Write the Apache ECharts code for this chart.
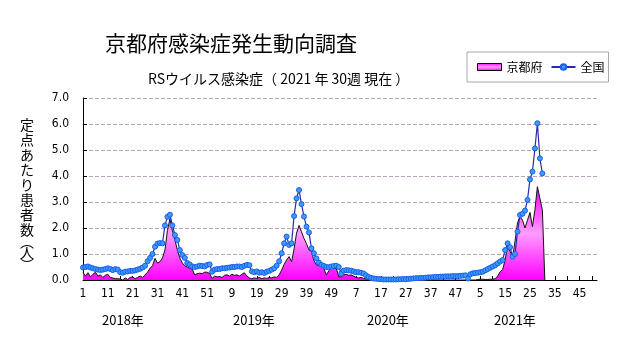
<!DOCTYPE html>
<html><head><meta charset="utf-8">
<script src="https://cdn.jsdelivr.net/npm/echarts@6/dist/echarts.min.js"></script>
<style>html,body{margin:0;padding:0;background:#fff}#c{width:631px;height:347px}</style>
</head><body><div id="c"></div>
<script>
// ---- categories ----
const years = ['2018', '2019', '2020', '2021'];
const weeksPerYear = 52;
const yearLabels = ['2018年', '2019年', '2020年', '2021年'];

// ---- 全国 (national) weekly values ----
const national2018 = [
  0.48,0.50,0.52,0.48,0.45,0.42,0.40,0.38,0.40,0.42,
  0.45,0.42,0.38,0.42,0.40,0.30,0.28,0.32,0.33,0.35,
  0.35,0.37,0.40,0.43,0.48,0.55,0.72,0.85,1.00,1.28,
  1.40,1.42,1.41,2.10,2.43,2.51,2.10,1.73,1.54,1.15,
  0.96,0.85,0.65,0.60,0.52,0.50,0.52,0.55,0.54,0.52,
  0.58,0.60];
const national2019 = [
  0.32,0.40,0.42,0.42,0.45,0.45,0.47,0.48,0.50,0.50,
  0.52,0.52,0.50,0.55,0.58,0.57,0.33,0.30,0.33,0.28,
  0.30,0.27,0.32,0.35,0.40,0.45,0.55,0.72,1.03,1.41,
  1.67,1.35,1.41,2.46,3.14,3.46,2.92,2.44,2.05,1.83,
  1.22,1.03,0.83,0.67,0.58,0.54,0.50,0.49,0.52,0.54,
  0.55,0.50];
const national2020 = [
  0.25,0.36,0.38,0.37,0.36,0.33,0.30,0.30,0.28,0.25,
  0.18,0.12,0.08,0.06,0.05,0.04,0.03,0.02,0.02,0.02,
  0.02,0.02,0.02,0.03,0.03,0.04,0.03,0.04,0.05,0.06,
  0.07,0.07,0.08,0.08,0.09,0.10,0.10,0.11,0.12,0.12,
  0.13,0.13,0.14,0.14,0.14,0.15,0.15,0.15,0.16,0.17,
  0.18,0.06];
const national2021 = [
  0.22,0.26,0.27,0.28,0.30,0.32,0.37,0.42,0.47,0.52,
  0.57,0.64,0.71,0.77,1.15,1.41,1.26,0.90,1.00,1.86,
  2.50,2.55,2.67,3.08,3.87,4.17,5.06,6.03,4.68,4.10];

// ---- 京都府 (Kyoto) weekly values ----
const kyoto2018 = [
  0.30,0.15,0.28,0.12,0.22,0.30,0.15,0.20,0.10,0.18,
  0.22,0.10,0.08,0.05,0.05,0.04,0.00,0.08,0.02,0.10,
  0.12,0.05,0.10,0.15,0.10,0.20,0.30,0.45,0.55,0.83,
  0.65,0.70,0.85,1.15,1.90,2.35,1.90,1.55,1.15,0.85,
  0.65,0.55,0.50,0.45,0.42,0.19,0.25,0.26,0.25,0.30,
  0.30,0.25];
const kyoto2019 = [
  0.06,0.15,0.12,0.13,0.10,0.18,0.20,0.15,0.22,0.18,
  0.20,0.15,0.22,0.28,0.15,0.08,0.05,0.08,0.06,0.10,
  0.05,0.08,0.06,0.10,0.08,0.12,0.10,0.20,0.38,0.60,
  0.77,0.90,0.70,1.20,1.80,2.10,1.85,1.60,1.40,1.15,
  1.10,0.75,0.58,0.55,0.55,0.45,0.19,0.35,0.50,0.45,
  0.45,0.13];
const kyoto2020 = [
  0.12,0.20,0.22,0.18,0.20,0.15,0.10,0.08,0.10,0.06,
  0.04,0.02,0.00,0.00,0.00,0.00,0.00,0.00,0.00,0.00,
  0.00,0.00,0.00,0.00,0.00,0.02,0.00,0.00,0.00,0.00,
  0.00,0.00,0.00,0.00,0.00,0.00,0.00,0.00,0.00,0.00,
  0.00,0.00,0.00,0.00,0.00,0.00,0.00,0.00,0.00,0.00,
  0.00,0.00];
const kyoto2021 = [
  0.00,0.00,0.00,0.02,0.03,0.03,0.02,0.02,0.03,0.03,
  0.05,0.15,0.32,0.40,0.77,1.30,1.10,0.85,1.50,2.20,
  2.45,2.30,2.00,2.30,2.60,2.05,2.70,3.59,3.14,2.69,
  0.00];

// ---- y tick labels ----
const yMin = 0, yMax = 7, yStep = 1;

// build category list (week numbers per year)
const categories = [];
years.forEach(() => { for (let w = 1; w <= weeksPerYear; w++) categories.push(String(w)); });
function pad(arr) { const out = arr.slice(); while (out.length < weeksPerYear) out.push(null); return out; }
const nationalData = [].concat(national2018, national2019, national2020, pad(national2021));
const kyotoData = [].concat(kyoto2018, kyoto2019, kyoto2020, pad(kyoto2021));

const jp = "'Noto Sans CJK JP', 'Noto Sans', sans-serif";
const narrow = "'Liberation Sans Narrow', 'DejaVu Sans Condensed', 'Roboto Condensed', sans-serif";

function magentaGrad() {
  return new echarts.graphic.LinearGradient(0, 0, 0, 1, [
    {offset: 0, color: '#ff00ff'},
    {offset: 0.5, color: '#ff9cff'},
    {offset: 1, color: '#ff00ff'}
  ]);
}

const chart = echarts.init(document.getElementById('c'), null, {renderer: 'canvas'});
const yNameRich = '{a|定}\n{a|点}\n{a|あ}\n{a|た}\n{a|り}\n{a|患}\n{a|者}\n{a|数}\n{p|︵}\n{a|人}\n{p|︶}';

chart.setOption({
  animation: false,
  backgroundColor: '#ffffff',
  title: [
    {text: '京都府感染症発生動向調査', left: 100, top: 28,
     textStyle: {fontSize: 21, fontWeight: 'normal', color: '#000', fontFamily: jp}},
    {text: 'RSウイルス感染症（ 2021 年 30週 現在 ）', left: 143, top: 67,
     textStyle: {fontSize: 14, fontWeight: 'normal', color: '#000', fontFamily: jp}}
  ],
  legend: {
    left: 467, top: 52, orient: 'horizontal',
    padding: [9, 4, 9, 10], itemWidth: 24, itemHeight: 7, itemGap: 8,
    borderColor: '#a8a8a8', borderWidth: 1, backgroundColor: '#fff',
    textStyle: {fontSize: 12, color: '#000', fontFamily: jp},
    data: [
      {name: '京都府', icon: 'rect', itemStyle: {color: magentaGrad(), borderColor: '#000', borderWidth: 1}},
      {name: '全国'}
    ]
  },
  grid: {left: 83, right: 34, top: 98, bottom: 67, containLabel: false, outerBoundsMode: 'none'},
  xAxis: {
    type: 'category', data: categories, boundaryGap: false,
    axisLine: {lineStyle: {color: '#000', width: 1}},
    axisTick: {show: true, inside: true, length: 4, interval: (i) => i % 5 === 0, lineStyle: {color: '#000'}},
    axisLabel: {interval: (i) => i % 10 === 0, color: '#000', fontSize: 12, margin: 8, fontFamily: narrow},
    splitLine: {show: false}
  },
  yAxis: {
    type: 'value', min: yMin, max: yMax, interval: yStep,
    axisLine: {show: true, lineStyle: {color: '#000', width: 1}},
    axisTick: {show: true, inside: true, length: 4, lineStyle: {color: '#000'}},
    axisLabel: {formatter: v => v.toFixed(1), color: '#000', fontSize: 12, margin: 14, fontFamily: narrow},
    splitLine: {show: true, lineStyle: {color: '#b8a4b8', width: 1, type: [4, 2]}}
  },
  series: [
    {
      name: '京都府', type: 'line', data: kyotoData, symbol: 'none', z: 2,
      lineStyle: {color: '#111', width: 1},
      itemStyle: {color: '#ff00ff'},
      areaStyle: {color: magentaGrad(), opacity: 1},
      connectNulls: false
    },
    {
      name: '全国', type: 'line', data: nationalData, z: 3,
      symbol: 'circle', symbolSize: 5, showAllSymbol: true,
      lineStyle: {color: '#2a2aa8', width: 1.2},
      itemStyle: {color: '#3b9bff', borderColor: '#1a5ee8', borderWidth: 1}
    }
  ],
  graphic: [
    {type: 'text', left: 20, top: 118, style: {
      text: yNameRich, fill: '#000', font: '13px ' + jp,
      rich: {a: {fontSize: 14, lineHeight: 15, fontFamily: jp, fill: '#000'},
             p: {fontSize: 14, lineHeight: 8, fontFamily: jp, fill: '#000'}}}},
    {type: 'text', left: 102, top: 314, style: {text: yearLabels[0], fill: '#000', font: '13px ' + jp}},
    {type: 'text', left: 233, top: 314, style: {text: yearLabels[1], fill: '#000', font: '13px ' + jp}},
    {type: 'text', left: 367, top: 314, style: {text: yearLabels[2], fill: '#000', font: '13px ' + jp}},
    {type: 'text', left: 494, top: 314, style: {text: yearLabels[3], fill: '#000', font: '13px ' + jp}}
  ]
});
</script></body></html>
